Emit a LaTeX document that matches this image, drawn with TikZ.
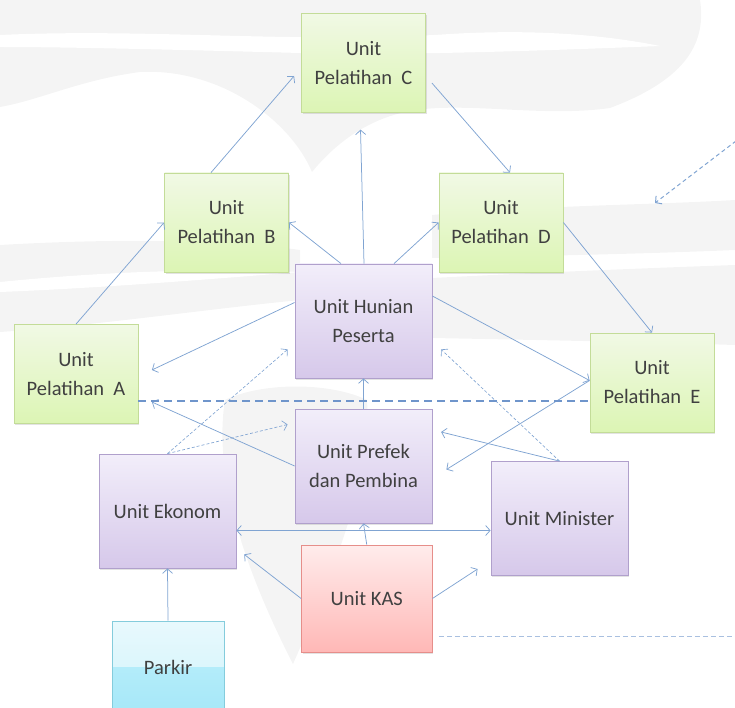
\documentclass[tikz,border=0pt]{standalone}
\usepackage{fontspec}
\setmainfont{Carlito}
\usetikzlibrary{arrows.meta,shadows,calc}
\definecolor{gtop}{HTML}{F1F9E5}
\definecolor{gbot}{HTML}{DCF5B4}
\definecolor{gbord}{HTML}{C3DC98}
\definecolor{ptop}{HTML}{F2EEFA}
\definecolor{pbot}{HTML}{D6C8EA}
\definecolor{pbord}{HTML}{B0A0CC}
\definecolor{rtop}{HTML}{FFECEC}
\definecolor{rbot}{HTML}{FFB8B6}
\definecolor{rbord}{HTML}{E68E8A}
\definecolor{ctop}{HTML}{E8F9FD}
\definecolor{cmid}{HTML}{CFF3FB}
\definecolor{cmid2}{HTML}{B3ECFA}
\definecolor{cbot}{HTML}{A6E8F8}
\definecolor{cbord}{HTML}{84CCDC}
\definecolor{arr}{HTML}{80A4D2}
\definecolor{arrdk}{HTML}{6F95CB}
\definecolor{arrlt}{HTML}{A9C0E0}
\definecolor{txt}{HTML}{404040}
\definecolor{wm}{HTML}{F4F4F4}
\tikzset{
  box/.style={draw, line width=0.8pt, inner sep=0pt, align=center,
    font=\fontsize{20.5}{29}\selectfont, text=txt,
    drop shadow={shadow xshift=1.2pt, shadow yshift=-1.6pt, opacity=0.22}},
  gbox/.style={box, draw=gbord, top color=gtop, bottom color=gbot,
    minimum width=124pt, minimum height=99pt},
  pbox/.style={box, draw=pbord, top color=ptop, bottom color=pbot,
    minimum width=137pt, minimum height=114pt},
  rbox/.style={box, draw=rbord, top color=rtop, bottom color=rbot},
  cbox/.style={box, draw=cbord, fill=ctop,
    path picture={
      \shade[top color=ctop, bottom color=cmid] (path picture bounding box.north west) rectangle (path picture bounding box.east);
      \shade[top color=cmid2, bottom color=cbot] (path picture bounding box.west) rectangle (path picture bounding box.south east);}},
  conn/.style={draw=arr, line width=0.75pt, -{Straight Barb[length=4.5pt,width=10pt]}},
  conn2/.style={conn, {Straight Barb[length=4.5pt,width=10pt]}-{Straight Barb[length=4.5pt,width=10pt]}},
  dconn/.style={conn, dash pattern=on 3pt off 2pt, line width=0.65pt},
  bigdash/.style={draw=arrdk, line width=1.6pt, dash pattern=on 8pt off 5pt},
  ltdash/.style={draw=arrlt, line width=1.1pt, dash pattern=on 5pt off 3pt},
  trdash/.style={draw=arr, line width=1pt, dash pattern=on 4pt off 3pt, -{Straight Barb[length=4.5pt,width=10pt]}},
}
\begin{document}
\begin{tikzpicture}[x=1pt,y=-1pt]
\useasboundingbox (0,0) rectangle (735,708);
% watermark
\fill[wm] (0,0) -- (700,0) .. controls (706,40) and (690,78) .. (610,108)
  .. controls (540,118) and (460,100) .. (405,112)
  .. controls (360,122) and (330,150) .. (312,172)
  .. controls (290,120) and (220,68) .. (140,72)
  .. controls (80,80) and (40,100) .. (0,107) -- cycle;
\fill[white] (0,35) .. controls (150,28) and (300,44) .. (450,34)
  .. controls (550,28) and (620,38) .. (660,46)
  .. controls (560,50) and (400,56) .. (300,53)
  .. controls (150,49) and (60,47) .. (0,47) -- cycle;
\fill[wm] (0,245) .. controls (120,238) and (230,240) .. (300,250) -- (300,300)
  .. controls (200,310) and (100,325) .. (0,332) -- cycle;
\fill[white] (0,282) .. controls (100,272) and (200,268) .. (300,272)
  .. controls (200,280) and (100,288) .. (0,292) -- cycle;
\fill[wm] (432,215) .. controls (550,205) and (650,205) .. (735,200) -- (735,250)
  .. controls (640,254) and (540,256) .. (432,258) -- cycle;
\fill[wm] (432,278) .. controls (550,272) and (650,268) .. (735,265) -- (735,345)
  .. controls (640,342) and (540,340) .. (432,338) -- cycle;
\fill[wm] (225,400) .. controls (212,480) and (250,580) .. (293,664)
  .. controls (330,580) and (372,480) .. (367,400)
  .. controls (330,382) and (262,382) .. (225,400) -- cycle;
% nodes
\node[gbox] (C) at (363.5,63) {Unit\\Pelatihan\ \ C};
\node[gbox] (B) at (226.5,222.5) {Unit\\Pelatihan\ \ B};
\node[gbox] (D) at (501,222.5) {Unit\\Pelatihan\ \ D};
\node[gbox] (A) at (76,374) {Unit\\Pelatihan\ \ A};
\node[gbox] (E) at (652,382.5) {Unit\\Pelatihan\ \ E};
\node[pbox] (hun) at (363.5,321) {Unit Hunian\\Peserta};
\node[pbox] (pref) at (363.5,466) {Unit Prefek\\dan Pembina};
\node[pbox] (ekon) at (167.5,511) {Unit Ekonom};
\node[pbox] (min) at (559.5,518.5) {Unit Minister};
\node[rbox, minimum width=130.5pt, minimum height=107pt] (kas) at (366.75,598.5) {Unit KAS};
\node[cbox, minimum width=112pt, minimum height=92pt] (park) at (168,667) {Parkir};
% connectors
\draw[conn] (A.north) -- (B.west);
\draw[conn] ([xshift=-15.5pt]B.north) -- ([xshift=-7pt,yshift=-13pt]C.west);
\draw[conn] ([xshift=6pt,yshift=-20pt]C.east) -- ([xshift=9pt]D.north);
\draw[conn] (D.east) -- (E.north);
\draw[conn] ([xshift=0.5pt]hun.north) -- ([xshift=-3pt,yshift=-16.7pt]C.south);
\draw[conn] ([xshift=-22.5pt]hun.north) -- (B.east);
\draw[conn] ([xshift=30.5pt]hun.north) -- (D.west);
\draw[conn] ([yshift=18.5pt]hun.west) -- ([xshift=13.5pt,yshift=4pt]A.east);
\draw[conn] ([yshift=25pt]hun.east) -- ([yshift=2pt]E.west);
\draw[conn] (pref.north) -- (hun.south);
\draw[conn] (pref.west) -- ([xshift=13.5pt,yshift=-28pt]A.east);
\draw[conn] ([yshift=2pt]E.west) -- ([xshift=14pt,yshift=-3.5pt]pref.east);
\draw[conn] (min.north) -- ([xshift=8.7pt,yshift=34pt]pref.east);
\draw[dconn] (min.north) -- ([xshift=8.7pt,yshift=29pt]hun.south east);
\draw[dconn] (ekon.north) -- ([xshift=-7pt,yshift=29pt]hun.south west);
\draw[dconn] (ekon.north) -- ([xshift=-7pt,yshift=41.5pt]pref.west);
\draw[bigdash] ([yshift=-27pt]A.east) coordinate (dl) -- (dl -| E.west);
\draw[conn2] ([yshift=-19.5pt]ekon.east) coordinate (hl) -- (hl -| min.west);
\draw[conn] (kas.north) -- (pref.south);
\draw[conn] (kas.west) -- ([xshift=7.8pt,yshift=-43.4pt]ekon.east);
\draw[conn] (kas.east) -- ([xshift=-13pt,yshift=-50.5pt]min.west);
\draw[conn] (park.north) -- (ekon.south);
\coordinate (tr1) at (736,141);
\coordinate (tr2) at (655,203);
\draw[trdash] (tr1) -- (tr2);
\coordinate (br) at (736,636.5);
\draw[ltdash] ([xshift=6.5pt,yshift=-38pt]kas.east) -- (br);
\end{tikzpicture}
\end{document}
